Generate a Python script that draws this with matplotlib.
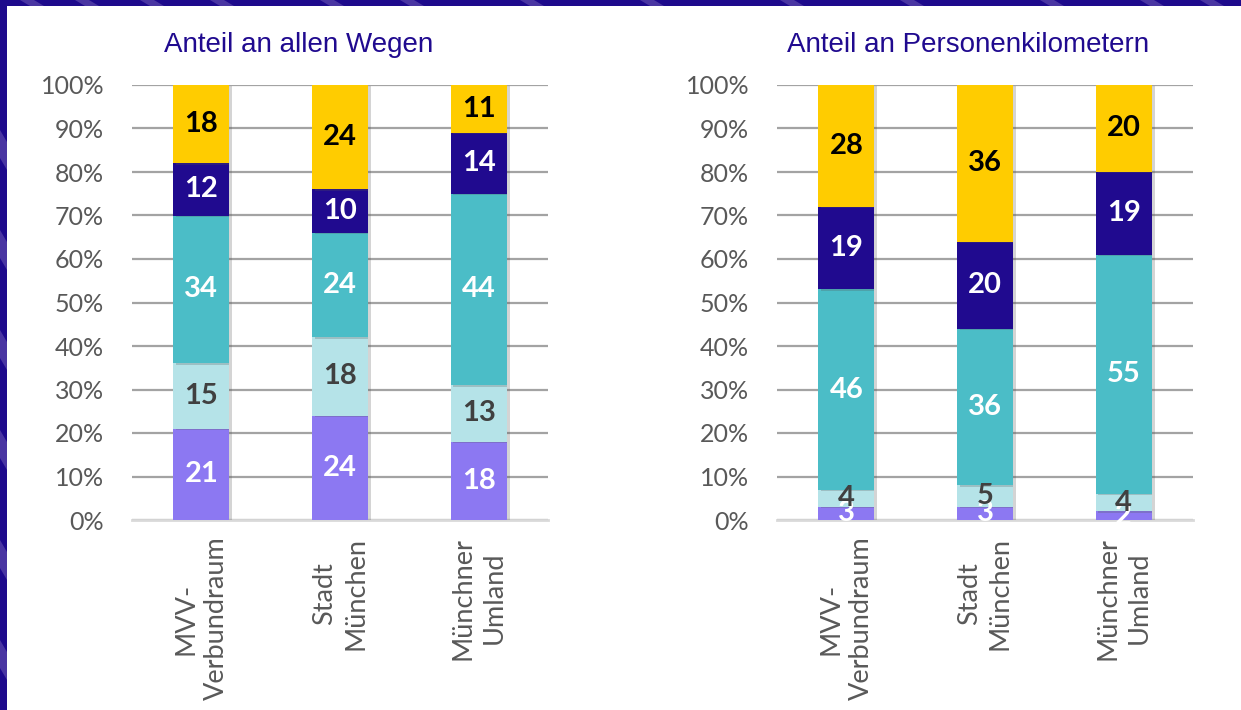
import matplotlib
matplotlib.use("Agg")
import matplotlib.pyplot as plt
import matplotlib.patches as mpatches
import matplotlib.patheffects as pe
from matplotlib.ticker import FuncFormatter
import numpy as np

# ---------------- data ----------------
categories = ["MVV-\nVerbundraum", "Stadt\nMünchen", "Münchner\nUmland"]
titles = ["Anteil an allen Wegen", "Anteil an Personenkilometern"]

# segments stacked bottom -> top
wege_purple = [21, 24, 18]
wege_lightteal = [15, 18, 13]
wege_teal = [34, 24, 44]
wege_darkblue = [12, 10, 14]
wege_yellow = [18, 24, 11]

pkm_purple = [3, 3, 2]
pkm_lightteal = [4, 5, 4]
pkm_teal = [46, 36, 55]
pkm_darkblue = [19, 20, 19]
pkm_yellow = [28, 36, 20]

yticks = [0, 10, 20, 30, 40, 50, 60, 70, 80, 90, 100]

seg_colors = ["#8C78F2", "#B5E3E8", "#4BBDC7", "#200A8F", "#FFCC00"]
lbl_colors = ["white", "#404040", "white", "white", "black"]

W, H = 1241, 710
fig = plt.figure(figsize=(W / 100, H / 100), dpi=100)
fig.patch.set_facecolor("#1E0A8C")

# decorative frame stripes
stripe_xs = [20, 75, 140, 210, 320, 400, 520, 640, 780, 900, 1040, 1140, 1200]
for sx in stripe_xs:
    poly = mpatches.Polygon([[sx / W, 1], [(sx + 14) / W, 1], [(sx + 24) / W, 1 - 6 / H], [(sx + 10) / W, 1 - 6 / H]],
                            closed=True, transform=fig.transFigure, facecolor="#4A36A2", edgecolor="none", zorder=-3)
    fig.patches.append(poly)
for sy in [130, 230, 330, 430, 540, 640]:
    poly = mpatches.Polygon([[0, 1 - sy / H], [7 / W, 1 - (sy + 12) / H], [7 / W, 1 - (sy + 40) / H], [0, 1 - (sy + 28) / H]],
                            closed=True, transform=fig.transFigure, facecolor="#4A36A2", edgecolor="none", zorder=-3)
    fig.patches.append(poly)

# white panel
panel = mpatches.Rectangle((7 / W, 0), 1 - 7 / W, 1 - 6 / H, transform=fig.transFigure,
                           facecolor="white", edgecolor="none", zorder=-2)
fig.patches.append(panel)

tick_font = "Lato"
bot = (H - 520) / H
hgt = 435 / H
axes_specs = [
    (132 / W, 416 / W),
    (777 / W, 416 / W),
]
datasets = [
    [wege_purple, wege_lightteal, wege_teal, wege_darkblue, wege_yellow],
    [pkm_purple, pkm_lightteal, pkm_teal, pkm_darkblue, pkm_yellow],
]
title_x = [299 / W, 968 / W]

for (left, width), data, title, tx in zip(axes_specs, datasets, titles, title_x):
    ax = fig.add_axes([left, bot, width, hgt])
    ax.set_facecolor("none")
    x = np.arange(len(categories))
    bottom = np.zeros(len(categories))
    for seg, col, lc in zip(data, seg_colors, lbl_colors):
        vals = np.array(seg, dtype=float)
        bars = ax.bar(x, vals, bottom=bottom, width=0.405, color=col, zorder=3,
                      linewidth=0)
        for b in bars:
            b.set_path_effects([pe.SimplePatchShadow(offset=(2, -1), alpha=0.25, shadow_rgbFace="#555555"),
                                pe.Normal()])
        for xi, v, b0 in zip(x, vals, bottom):
            ax.text(xi, b0 + v / 2, f"{int(v)}", ha="center", va="center",
                    color=lc, fontsize=21, fontweight="bold", family=tick_font, zorder=5)
        bottom += vals

    ax.set_xlim(-0.5, 2.5)
    ax.set_ylim(0, 100)
    ax.set_yticks(yticks)
    ax.yaxis.set_major_formatter(FuncFormatter(lambda v, p: f"{int(v)}%"))
    ax.grid(axis="y", color="#A3A3A3", linewidth=1.6, zorder=1)
    ax.set_axisbelow(True)
    for s in ["top", "right", "left"]:
        ax.spines[s].set_visible(False)
    ax.spines["bottom"].set_color("#D9D9D9")
    ax.spines["bottom"].set_linewidth(2)
    ax.spines["bottom"].set_zorder(2)
    ax.tick_params(axis="y", length=0, pad=20, labelsize=18, labelcolor="#595959")
    ax.tick_params(axis="x", length=0, pad=12, labelsize=19.5, labelcolor="#595959")
    for lab in ax.get_yticklabels():
        lab.set_family(tick_font)
    ax.set_xticks(x)
    ax.set_xticklabels(categories, rotation=90, ha="center", va="top",
                       multialignment="center", family=tick_font, linespacing=1.3)

    fig.text(tx, 1 - 45 / H, title, ha="center", va="center", color="#200A8F",
             fontsize=20, family="Liberation Sans")

fig.savefig("out.png", dpi=100)
